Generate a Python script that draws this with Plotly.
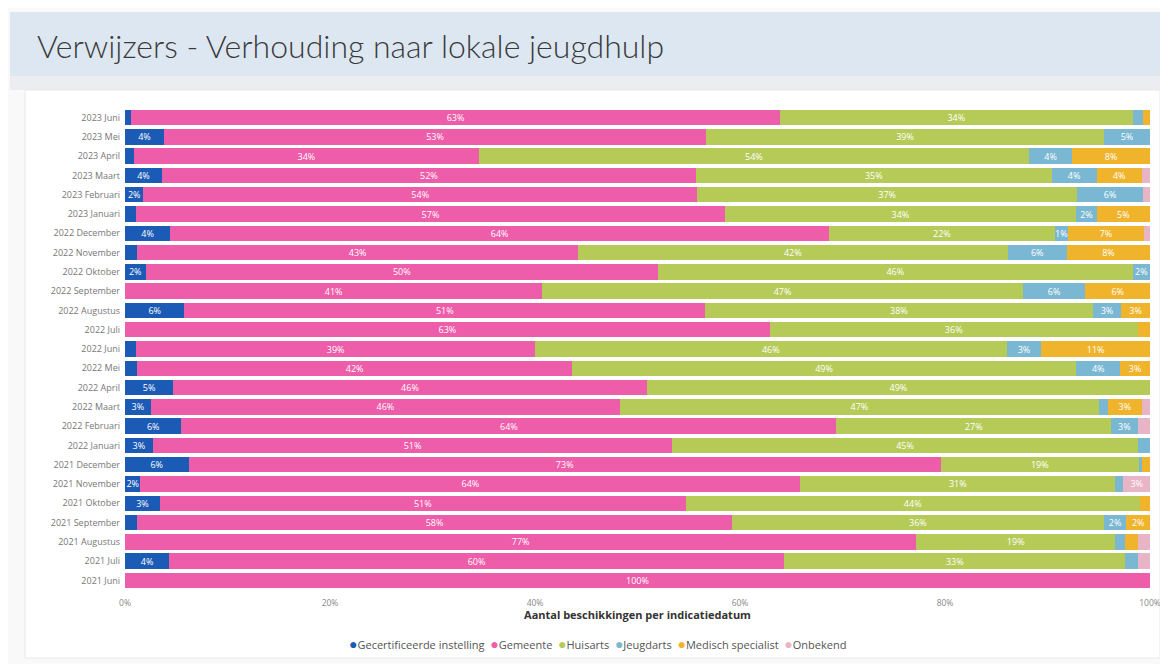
import plotly.graph_objects as go

# the page body adds an 8px offset; build the figure in reference pixels minus that
OFF = 8
W, H = 1168 - OFF, 664 - OFF
ML, MR, MT, MB = 125 - OFF, 18, 108 - OFF, 74

months = ["2023 Juni", "2023 Mei", "2023 April", "2023 Maart", "2023 Februari", "2023 Januari",
          "2022 December", "2022 November", "2022 Oktober", "2022 September", "2022 Augustus",
          "2022 Juli", "2022 Juni", "2022 Mei", "2022 April", "2022 Maart", "2022 Februari",
          "2022 Januari", "2021 December", "2021 November", "2021 Oktober", "2021 September",
          "2021 Augustus", "2021 Juli", "2021 Juni"]

series_names = ["Gecertificeerde instelling", "Gemeente", "Huisarts", "Jeugdarts",
                "Medisch specialist", "Onbekend"]

gecertificeerde = [0.6, 3.8, 0.9, 3.6, 1.8, 1.1, 4.4, 1.2, 2.0, 0, 5.8, 0, 1.1, 1.2, 4.7, 2.5, 5.5,
                   2.7, 6.2, 1.5, 3.4, 1.2, 0, 4.3, 0]
gemeente = [63.3, 52.9, 33.6, 52.1, 54.0, 57.4, 64.3, 43.0, 50.0, 40.7, 50.8, 62.9, 38.9, 42.4,
            46.2, 45.8, 63.9, 50.7, 73.4, 64.4, 51.3, 58.0, 77.2, 60.0, 100]
huisarts = [34.4, 38.8, 53.7, 34.7, 37.1, 34.3, 22.0, 41.9, 46.3, 46.9, 37.8, 35.9, 46.0, 49.2,
            49.1, 46.7, 26.8, 45.4, 19.3, 30.7, 44.3, 36.3, 19.4, 33.3, 0]
jeugdarts = [1.0, 4.5, 4.2, 4.4, 6.4, 2.0, 1.3, 5.8, 1.7, 6.1, 2.8, 0, 3.4, 4.3, 0, 0.9, 2.6,
             1.2, 0.3, 0.8, 0, 2.2, 1.0, 1.2, 0]
medisch_specialist = [0.7, 0, 7.6, 4.4, 0, 5.2, 7.4, 8.1, 0, 6.3, 2.8, 1.2, 10.6, 2.9, 0, 3.3, 0,
                      0, 0.8, 0, 1.0, 2.3, 1.2, 0, 0]
onbekend = [0, 0, 0, 0.8, 0.7, 0, 0.6, 0, 0, 0, 0, 0, 0, 0, 0, 0.8, 1.2, 0, 0, 2.6, 0, 0, 1.2,
            1.2, 0]

x_ticks = [0, 20, 40, 60, 80, 100]
x_tick_labels = ["0%", "20%", "40%", "60%", "80%", "100%"]

colors = ["#1B5AB5", "#EE5DA9", "#B6CA58", "#7AB7D3", "#EFB42C", "#E7B5C6"]
all_series = [gecertificeerde, gemeente, huisarts, jeugdarts, medisch_specialist, onbekend]


def px_x(p):
    return (p - OFF - ML) / (W - ML - MR)


def px_y(p):
    return 1 - (p - OFF - MT) / (H - MT - MB)


fig = go.Figure()
for name, vals, col in zip(series_names, all_series, colors):
    labels = [f"{int(v + 0.5)}%" if v >= 1.25 else "" for v in vals]
    fig.add_trace(go.Bar(
        y=months, x=vals, orientation="h", name=name,
        marker=dict(color=col, line=dict(width=0)),
        text=labels, textposition="inside", insidetextanchor="middle", textangle=0,
        constraintext="none",
        textfont=dict(color="white", size=9, family="Open Sans"),
        showlegend=False, hovertemplate=name + ": %{x:.1f}%<extra></extra>",
    ))

legend_text = "&nbsp;&nbsp;".join(
    f"<span style='color:{c};font-size:14px'>●</span>{n}" for n, c in zip(series_names, colors)
)

shapes = [
    dict(type="rect", xref="paper", yref="paper", x0=px_x(10), x1=px_x(1168),
         y0=px_y(12), y1=px_y(76), fillcolor="#DDE7F2", line=dict(width=0), layer="below"),
    dict(type="rect", xref="paper", yref="paper", x0=px_x(10), x1=px_x(1168),
         y0=px_y(76), y1=px_y(90), fillcolor="#EBEDF0", line=dict(width=0), layer="below"),
    dict(type="rect", xref="paper", yref="paper", x0=px_x(25), x1=px_x(1160),
         y0=px_y(90), y1=px_y(658), fillcolor="white", line=dict(width=1, color="#E8E8E8"),
         layer="below"),
]

fig.update_layout(
    width=W, height=H,
    margin=dict(l=ML, r=MR, t=MT, b=MB, autoexpand=False),
    paper_bgcolor="#F9F9FA", plot_bgcolor="white",
    barmode="stack", bargap=0.2,
    shapes=shapes,
    showlegend=False,
    font=dict(family="Open Sans", color="#555"),
    annotations=[
        dict(text="Verwijzers - Verhouding naar lokale jeugdhulp", xref="paper", yref="paper",
             x=px_x(35), y=px_y(45), xanchor="left", yanchor="middle", showarrow=False,
             font=dict(size=32, color="#3a3a3a", family="Lato", weight=300)),
        dict(text=legend_text, xref="paper", yref="paper", x=px_x(597), y=px_y(643),
             xanchor="center", yanchor="middle", showarrow=False,
             font=dict(size=11, color="#555", family="Open Sans")),
    ],
    xaxis=dict(range=[0, 100], tickvals=x_ticks, ticktext=x_tick_labels, showgrid=False,
               zeroline=False, automargin=False, tickfont=dict(size=8.5, color="#888"),
               ticklabelstandoff=6,
               title=dict(text="<b>Aantal beschikkingen per indicatiedatum</b>",
                          font=dict(size=11, color="#333"), standoff=4)),
    yaxis=dict(autorange="reversed", showgrid=False, automargin=False,
               tickfont=dict(size=9, color="#777"), ticklabelstandoff=4),
)

fig.write_html("out.html")
